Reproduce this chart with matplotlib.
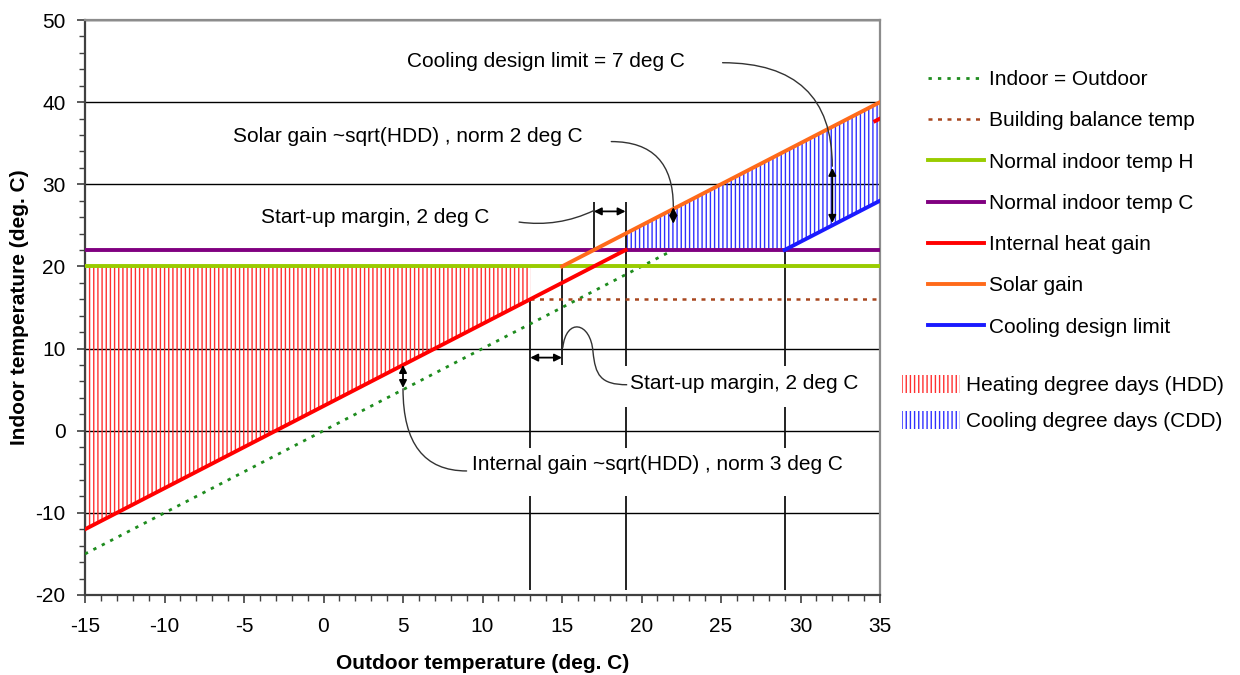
import numpy as np
import matplotlib.pyplot as plt
from matplotlib.patches import Patch, PathPatch
from matplotlib.path import Path
from matplotlib.ticker import MultipleLocator

plt.rcParams['font.family'] = ['Liberation Sans', 'DejaVu Sans']
plt.rcParams['axes.unicode_minus'] = False
plt.rcParams['hatch.linewidth'] = 1.0

# series: outdoor temperature (x) -> indoor temperature (y)
indoor_x = [-15, 22]
indoor_y = [-15, 22]
balance_x = [13, 35]
balance_y = [16, 16]
normal_h_x = [-15, 35]
normal_h_y = [20, 20]
normal_c_x = [-15, 35]
normal_c_y = [22, 22]
internal_x = [-15, 19, np.nan, 34.7, 35]
internal_y = [-12, 22, np.nan, 37.7, 38]
solar_x = [15, 35]
solar_y = [20, 40]
cooling_x = [29, 35]
cooling_y = [22, 28]

# degree day areas
hdd_x = [-15, 13]
hdd_top = [20, 20]
hdd_bottom = [-12, 16]
cdd_x = [19, 29, 35]
cdd_top = [24, 34, 40]
cdd_bottom = [22, 22, 28]

# vertical guide segments (x, top, bottom)
guide_x = [13, 13, 19, 19, 19, 29, 29, 29, 15, 17]
guide_top = [16, -8.0, 27.8, 2.9, -8.0, 22, 2.9, -8.0, 20, 27.8]
guide_bot = [-2.1, -19.4, 7.9, -2.1, -19.4, 7.9, -2.1, -19.4, 8.0, 22]

# double arrows (x0, y0, x1, y1)
arrows = [(17, 26.7, 19, 26.7), (13, 8.9, 15, 8.9), (5, 8.0, 5, 5.2),
          (22, 27.2, 22, 25.2), (32, 32.0, 32, 25.3)]

# notes: text, x, y
notes = [("Cooling design limit = 7 deg C", 5.25, 45.0),
         ("Solar gain ~sqrt(HDD) , norm 2 deg C", -5.7, 35.8),
         ("Start-up margin, 2 deg C", -3.9, 25.9),
         ("Start-up margin, 2 deg C", 19.3, 5.8),
         ("Internal gain ~sqrt(HDD) , norm 3 deg C", 9.35, -4.1)]

# connectors: start, end, style
connectors = [((25.1, 44.8), (32.0, 32.2), 'angle3,angleA=0,angleB=90'),
              ((18.1, 35.2), (22.0, 27.3), 'angle3,angleA=0,angleB=90'),
              ((12.3, 25.4), (17.0, 26.8), 'arc3,rad=0.15'),
              ((9.0, -4.9), (5.0, 5.1), 'angle3,angleA=0,angleB=90')]
startup_curve = [(19.1, 5.6), (17.4, 5.6), (17.1, 6.8), (16.95, 9.6),
                 (16.8, 13.3), (15.25, 13.8), (15.05, 10.1)]

fig = plt.figure(figsize=(12.4, 6.75), dpi=100)
ax = fig.add_axes([85 / 1240, 1 - 595 / 675, 795 / 1240, 575 / 675])

ax.set_xlim(-15, 35)
ax.set_ylim(-20, 50)
ax.xaxis.set_major_locator(MultipleLocator(5))
ax.xaxis.set_minor_locator(MultipleLocator(1))
ax.yaxis.set_major_locator(MultipleLocator(10))
ax.yaxis.set_minor_locator(MultipleLocator(2))
ax.yaxis.grid(True, which='major', color='black', lw=1.0, zorder=0)
ax.set_axisbelow(True)

ax.fill_between(hdd_x, hdd_bottom, hdd_top, facecolor='none', edgecolor='#ff3030',
                hatch='||||', linewidth=0, zorder=1)
ax.fill_between(cdd_x, cdd_bottom, cdd_top, facecolor='none', edgecolor='#3030ff',
                hatch='||||', linewidth=0, zorder=1)

ax.vlines(guide_x, guide_bot, guide_top, color='#111111', lw=1.3, zorder=2)

ax.plot(indoor_x, indoor_y, color='#1e8c1e', lw=2.0, ls=(0, (1.2, 2.2)),
        label='Indoor = Outdoor', zorder=3)
ax.plot(balance_x, balance_y, color='#a8461e', lw=1.8, ls=(0, (1.6, 2.2)),
        label='Building balance temp', zorder=3)
ax.plot(normal_h_x, normal_h_y, color='#99cc00', lw=2.8, label='Normal indoor temp H', zorder=3)
ax.plot(normal_c_x, normal_c_y, color='#800080', lw=2.8, label='Normal indoor temp C', zorder=3)
ax.plot(internal_x, internal_y, color='#ff0000', lw=2.8, label='Internal heat gain', zorder=4)
ax.plot(solar_x, solar_y, color='#ff6a1a', lw=2.8, label='Solar gain', zorder=4)
ax.plot(cooling_x, cooling_y, color='#1a1aff', lw=2.8, label='Cooling design limit', zorder=4)

for x0, y0, x1, y1 in arrows:
    ax.annotate('', xy=(x1, y1), xytext=(x0, y0),
                arrowprops=dict(arrowstyle='<|-|>', color='black', lw=1.3,
                                mutation_scale=11, shrinkA=0, shrinkB=0), zorder=5)

for text, x, y in notes:
    ax.text(x, y, text, fontsize=15, ha='left', va='center', zorder=6)

for start, end, style in connectors:
    ax.annotate('', xy=end, xytext=start,
                arrowprops=dict(arrowstyle='-', color='#333333', lw=1.0,
                                connectionstyle=style, shrinkA=0, shrinkB=0), zorder=5)

codes = [Path.MOVETO] + [Path.CURVE4] * 6
ax.add_patch(PathPatch(Path(startup_curve, codes), facecolor='none',
                       edgecolor='#333333', lw=1.0, zorder=5))

for side in ['left', 'bottom']:
    ax.spines[side].set_color('#404040')
    ax.spines[side].set_linewidth(1.6)
for side in ['top', 'right']:
    ax.spines[side].set_color('#8c8c8c')
    ax.spines[side].set_linewidth(1.6)

ax.tick_params(which='both', direction='out', color='#404040', labelsize=15)
ax.tick_params(which='major', length=6, width=1.2)
ax.tick_params(which='minor', length=4, width=1.0)
ax.tick_params(axis='x', which='major', pad=10)
ax.tick_params(axis='y', which='major', pad=8)

ax.set_xlabel('Outdoor temperature (deg. C)', fontsize=15, fontweight='bold')
ax.set_ylabel('Indoor temperature (deg. C)', fontsize=15, fontweight='bold')
ax.xaxis.set_label_coords(0.5, -0.102)
ax.yaxis.set_label_coords(-0.07, 0.5)

line_handles = ax.get_lines()
leg1 = ax.legend(handles=line_handles, loc='upper left',
                 bbox_to_anchor=(928 / 1240, 1 - 70 / 675), bbox_transform=fig.transFigure,
                 frameon=False, fontsize=15, handlelength=2.7, handletextpad=0.25,
                 labelspacing=1.07, borderpad=0, borderaxespad=0)
ax.add_artist(leg1)

area_handles = [Patch(facecolor='none', edgecolor='#ff3030', hatch='||||', lw=0,
                      label='Heating degree days (HDD)'),
                Patch(facecolor='none', edgecolor='#3030ff', hatch='||||', lw=0,
                      label='Cooling degree days (CDD)')]
ax.legend(handles=area_handles, loc='upper left',
          bbox_to_anchor=(902 / 1240, 1 - 375 / 675), bbox_transform=fig.transFigure,
          frameon=False, fontsize=15, handlelength=2.8, handleheight=0.95,
          handletextpad=0.25, labelspacing=0.77, borderpad=0, borderaxespad=0)

fig.savefig('out.png', dpi=100)
